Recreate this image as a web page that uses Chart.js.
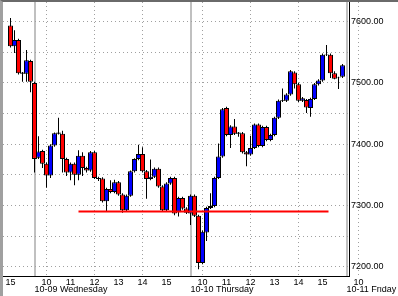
<!DOCTYPE html>
<html>
<head>
<meta charset="utf-8">
<script src="https://cdn.jsdelivr.net/npm/chart.js@4.4.1/dist/chart.umd.min.js"></script>
<style>
  html, body { margin: 0; padding: 0; background: #fff; }
  #frame { width: 395px; height: 294px; border-top: 2px solid #6a6a6a; border-left: 3px solid #a0a0a0; }
  canvas { display: block; }
</style>
</head>
<body>
<div id="frame"><canvas id="chart" width="395" height="294"></canvas></div>
<script>
// 10-minute bars, 10-08 15:00 .. 10-10 15:50
const opens = [7594,7560,7570,7515,7515,7536,7500,7378,7389,7368,
  7349,7398,7417,7417,7376,7354,7368,7350,7381,7361,
  7357,7387,7345,7344,7307,7327,7322,7338,7318,7292,
  7316,7356,7376,7384,7356,7343,7347,7360,7331,7292,
  7336,7345,7289,7312,7295,7287,7316,7283,7206,7256,
  7296,7299,7345,7380,7459,7415,7429,7417,7418,7387,
  7383,7394,7432,7397,7428,7407,7415,7443,7471,7471,
  7481,7517,7498,7471,7472,7459,7474,7498,7504,7546,
  7546,7516,7508,7510];
const highs = [7606,7586,7572,7518,7554,7538,7502,7413,7391,7370,
  7400,7419,7443,7422,7378,7370,7370,7390,7387,7363,
  7389,7389,7347,7346,7329,7341,7342,7340,7320,7318,
  7357,7377,7399,7395,7358,7375,7362,7362,7333,7338,
  7347,7347,7314,7314,7297,7318,7318,7285,7259,7298,
  7320,7347,7401,7459,7461,7431,7441,7420,7420,7389,
  7414,7434,7434,7430,7430,7417,7445,7473,7491,7483,
  7521,7519,7500,7477,7474,7476,7500,7506,7548,7562,
  7548,7519,7510,7531];
const lows = [7558,7549,7514,7502,7502,7485,7354,7376,7361,7329,
  7345,7396,7416,7354,7348,7341,7333,7341,7348,7354,
  7355,7343,7340,7305,7291,7320,7320,7316,7288,7290,
  7314,7354,7374,7354,7311,7341,7345,7329,7290,7290,
  7334,7284,7282,7293,7286,7268,7281,7196,7204,7242,
  7294,7297,7343,7378,7413,7394,7415,7412,7385,7364,
  7381,7392,7395,7395,7405,7405,7413,7441,7469,7469,
  7479,7491,7469,7469,7451,7445,7472,7496,7502,7544,
  7508,7506,7490,7508];
const closes = [7560,7570,7516,7517,7537,7502,7376,7388,7368,7349,
  7398,7418,7419,7376,7354,7368,7350,7381,7361,7357,
  7387,7345,7343,7307,7327,7322,7338,7318,7292,7316,
  7356,7376,7384,7356,7343,7347,7360,7331,7292,7336,
  7345,7287,7312,7295,7288,7316,7283,7206,7257,7296,
  7299,7345,7380,7457,7415,7429,7417,7419,7387,7383,
  7394,7432,7397,7428,7407,7415,7443,7471,7472,7481,
  7519,7498,7471,7475,7460,7474,7498,7504,7546,7547,
  7516,7507,7509,7529];

const hourTicks = [0, 9, 15, 21, 27, 33, 39, 48, 54, 60, 66, 72, 78, 87];
const hourLabels = ['15','10','11','12','13','14','15','10','11','12','13','14','15','10'];
const gridHours = ['10', '12', '14'];
const dayTicks = [6, 45, 84];
const dayLabels = ['10-09 Wednesday', '10-10 Thursday', '10-11 Friday'];
const priceTicks = [7200, 7250, 7300, 7350, 7400, 7450, 7500, 7550, 7600];

const supportLevel = 7290;
const supportStart = 17;
const supportEnd = 79.5;

const xMin = -1.875, xMax = 84.625;
const yMin = 7184.8, yMax = 7632.2;

const idx = opens.map((_, i) => i);
const bodyData = idx.map(i => ({ x: i, y: [opens[i], closes[i]] }));
const wickData = idx.map(i => ({ x: i, y: [lows[i], highs[i]] }));
const bodyColors = idx.map(i => closes[i] >= opens[i] ? '#0000ff' : '#ff0000');

Chart.defaults.font = { family: 'Liberation Sans', size: 9, lineHeight: 1 };
Chart.defaults.color = '#000';

new Chart(document.getElementById('chart'), {
  type: 'bar',
  data: {
    datasets: [
      {
        type: 'line',
        data: [{ x: supportStart, y: supportLevel }, { x: supportEnd, y: supportLevel }],
        borderColor: '#ff0000',
        borderWidth: 2,
        pointRadius: 0,
        order: 0
      },
      {
        data: bodyData,
        backgroundColor: bodyColors,
        borderColor: '#000',
        borderWidth: 1,
        borderSkipped: false,
        barThickness: 5,
        inflateAmount: 0,
        grouped: false,
        order: 1
      },
      {
        data: wickData,
        backgroundColor: '#000',
        borderWidth: 0,
        barThickness: 1,
        inflateAmount: 0,
        grouped: false,
        order: 2
      }
    ]
  },
  options: {
    responsive: false,
    animation: false,
    events: [],
    layout: { padding: 0 },
    plugins: { legend: { display: false }, tooltip: { enabled: false } },
    scales: {
      x: {
        type: 'linear', position: 'bottom', min: xMin, max: xMax, offset: false,
        grid: {
          offset: false, drawTicks: false, lineWidth: 1,
          color: c => (c.tick && gridHours.includes(hourLabels[hourTicks.indexOf(c.tick.value)])) ? '#a0a0a0' : 'rgba(0,0,0,0)'
        },
        border: { display: true, color: '#000', width: 1, dash: [1, 3] },
        ticks: {
          autoSkip: false, maxRotation: 0, padding: 2,
          callback: v => hourLabels[hourTicks.indexOf(v)]
        },
        afterBuildTicks: s => { s.ticks = hourTicks.map(v => ({ value: v })); },
        afterFit: s => { s.height = 10; s.paddingLeft = 0; s.paddingRight = 0; }
      },
      x2: {
        type: 'linear', position: 'bottom', weight: 1, min: xMin, max: xMax, offset: false,
        grid: { offset: false, drawTicks: false, color: '#c0c0c0', lineWidth: 2 },
        border: { display: false },
        ticks: {
          autoSkip: false, maxRotation: 0, align: 'start', padding: -1,
          callback: v => dayLabels[dayTicks.indexOf(v)]
        },
        afterBuildTicks: s => { s.ticks = dayTicks.map(v => ({ value: v })); },
        afterFit: s => { s.height = 10; s.paddingLeft = 0; s.paddingRight = 0; }
      },
      y: {
        position: 'right', min: yMin, max: yMax, beginAtZero: false,
        grid: { drawTicks: false, color: '#a0a0a0', lineWidth: 1 },
        border: { display: true, color: '#000', width: 1, dash: [1, 3] },
        ticks: { padding: 2, callback: v => v % 100 === 0 ? v.toFixed(2) : '' },
        afterBuildTicks: s => { s.ticks = priceTicks.map(v => ({ value: v })); },
        afterFit: s => { s.width = 49; s.paddingTop = 0; s.paddingBottom = 0; }
      }
    }
  }
});
</script>
</body>
</html>
